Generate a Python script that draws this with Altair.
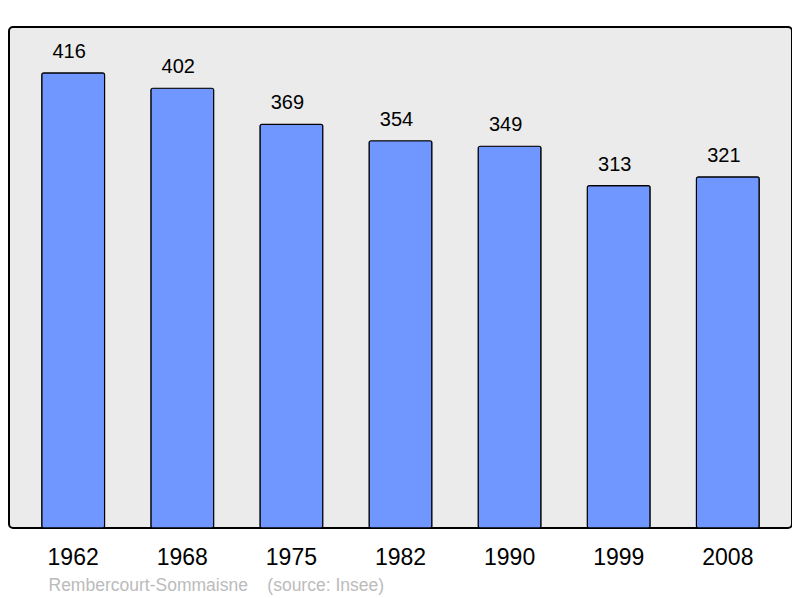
import altair as alt
import pandas as pd

years = ["1962", "1968", "1975", "1982", "1990", "1999", "2008"]
population = [416, 402, 369, 354, 349, 313, 321]

df = pd.DataFrame({"year": years, "pop": population})

x = alt.X("year:N", sort=years,
          scale=alt.Scale(paddingInner=0.424, paddingOuter=0.30),
          axis=alt.Axis(title="Rembercourt-Sommaisne\u00a0\u00a0\u00a0\u00a0(source: Insee)",
                        titleAnchor="start", titleAlign="left", titleX=39, titleY=57,
                        titleBaseline="middle", titleFont="Liberation Sans",
                        titleFontSize=17.5, titleFontWeight="normal", titleColor="#bbbbbb",
                        labelAngle=0, labelFont="Liberation Sans", labelFontSize=23,
                        labelColor="black", labelPadding=18, ticks=False, domain=False))
y = alt.Y("pop:Q", scale=alt.Scale(domain=[0, 458], nice=False, zero=True), axis=None)

bars = alt.Chart(df).mark_bar(color="#7097ff", stroke="black", strokeWidth=1.2,
                              cornerRadius=2).encode(x=x, y=y)
labels = alt.Chart(df).mark_text(font="Liberation Sans", fontSize=20, color="black",
                                 baseline="alphabetic", dy=-15, dx=-4).encode(
    x=x, y=y, text="pop:Q")

chart = (bars + labels).properties(
    width=783, height=501,
    autosize=alt.AutoSizeParams(type="none"),
    padding={"left": 1, "top": 19, "right": 0, "bottom": 69},
).configure_view(fill="#ebebeb", stroke="black", strokeWidth=2, cornerRadius=4)

chart.save("out.html", embed_options={"renderer": "svg", "actions": False})
